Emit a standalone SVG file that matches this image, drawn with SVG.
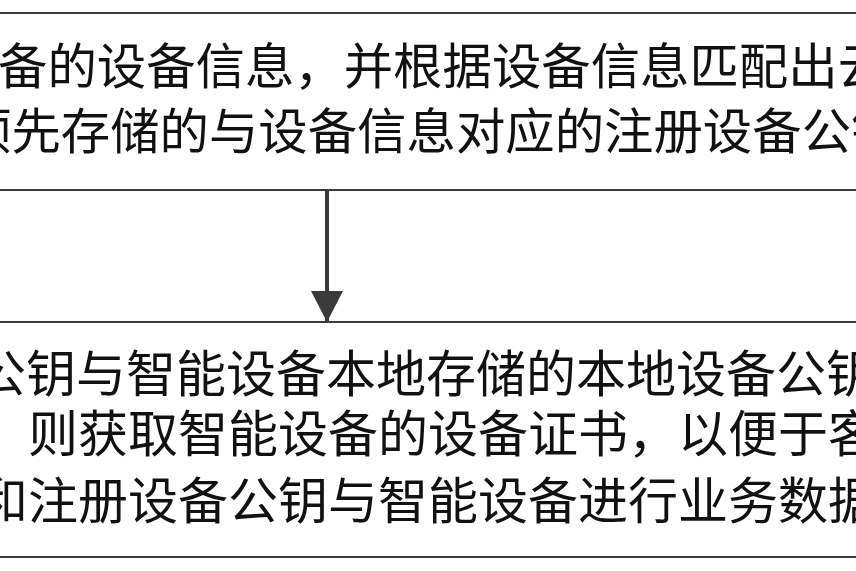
<svg xmlns="http://www.w3.org/2000/svg" width="856" height="571" viewBox="0 0 856 571">
  <style>
    .edge { stroke: #3c3c3c; stroke-width: 2; fill: none; }
    .t1 { font-family: "Noto Sans CJK SC", "Noto Sans CJK JP", sans-serif; font-size: 49.4px; fill: #111; }
    .t2 { font-family: "Noto Sans CJK SC", "Noto Sans CJK JP", sans-serif; font-size: 50px; fill: #111; }
    .conn { stroke: #3a3a3a; stroke-width: 4; fill: none; }
  </style>
  <defs>
    <marker id="arrow" markerUnits="userSpaceOnUse" markerWidth="32" markerHeight="32" refX="31" refY="16" orient="auto">
      <path d="M0,0 L31,16 L0,32 Z" fill="#3a3a3a"/>
    </marker>
  </defs>
  <rect x="0" y="0" width="856" height="571" fill="#fff"/>
  <g id="node1">
    <line class="edge" x1="0" y1="13" x2="856" y2="13"/>
    <line class="edge" x1="0" y1="190" x2="856" y2="190"/>
    <text class="t1" x="-2" y="84">备的设备信息，并根据设备信息匹配出云</text>
    <text class="t1" x="-38" y="149">预先存储的与设备信息对应的注册设备公钥</text>
  </g>
  <g id="node2">
    <line class="edge" x1="0" y1="322" x2="856" y2="322"/>
    <line class="edge" x1="0" y1="557" x2="856" y2="557"/>
    <text class="t2" x="-24" y="392">公钥与智能设备本地存储的本地设备公钥</text>
    <text class="t2" x="28" y="452">则获取智能设备的设备证书，以便于客</text>
    <text class="t2" x="-22" y="519">和注册设备公钥与智能设备进行业务数据</text>
  </g>
  <g id="connectors">
    <line class="conn" x1="327" y1="189" x2="327" y2="322" marker-end="url(#arrow)"/>
  </g>
</svg>
